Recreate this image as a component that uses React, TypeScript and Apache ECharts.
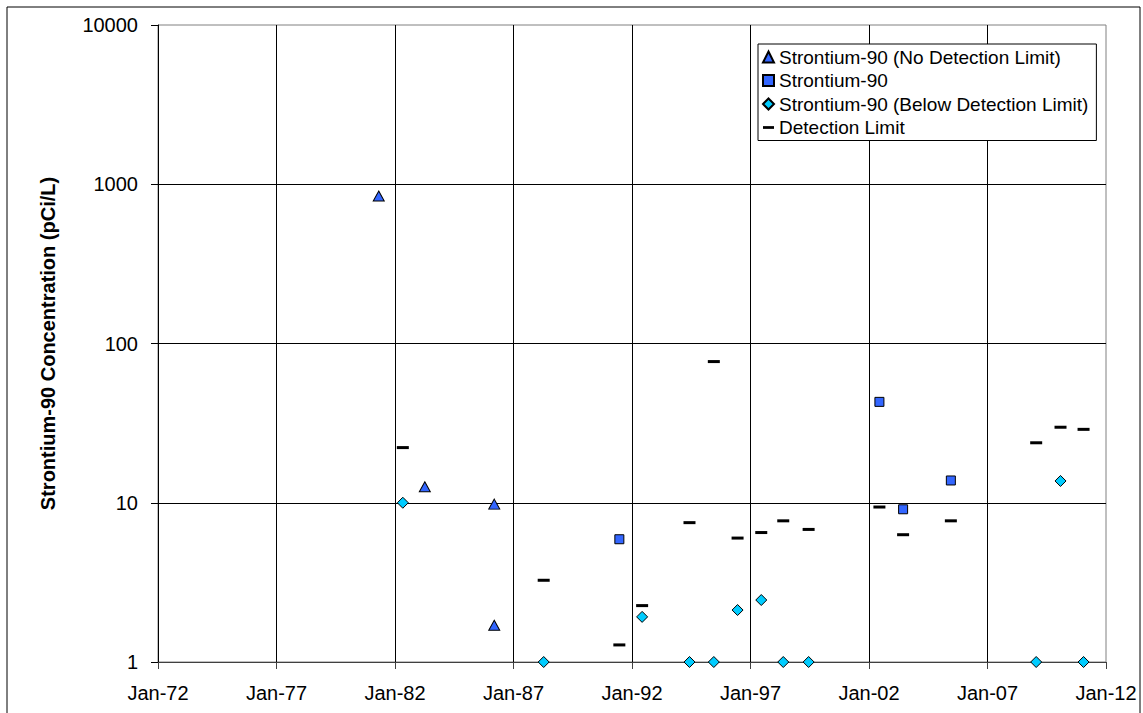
import React, { useEffect, useRef } from 'react';
import * as echarts from 'echarts';

// Strontium-90 (No Detection Limit)
const noDlDates = ['1981-04-25', '1983-04-05', '1986-03-10', '1986-03-10'];
const noDlValues = [844, 12.6, 9.8, 1.7];

// Strontium-90 (detected)
const detectDates = ['1991-06-20', '2002-06-10', '2003-06-10', '2005-06-15'];
const detectValues = [5.9, 43, 9.1, 13.8];

// Strontium-90 (Below Detection Limit)
const belowDates = [
  '1982-05-01', '1988-04-10', '1992-06-05', '1994-06-05', '1995-06-15', '1996-06-15',
  '1997-06-15', '1998-05-20', '1999-06-15', '2009-01-20', '2010-01-30', '2011-01-20',
];
const belowValues = [10, 1, 1.92, 1, 1, 2.12, 2.45, 1, 1, 1, 13.7, 1];

// Detection Limit
const limitDates = [
  '1982-05-01', '1988-04-10', '1991-06-20', '1992-06-05', '1994-06-05', '1995-06-15',
  '1996-06-15', '1997-06-15', '1998-05-20', '1999-06-15', '2002-06-10', '2003-06-10',
  '2005-06-15', '2009-01-20', '2010-01-30', '2011-01-20',
];
const limitValues = [22.2, 3.26, 1.28, 2.26, 7.5, 77, 6.0, 6.5, 7.7, 6.8, 9.4, 6.3, 7.7, 23.8, 29.8, 28.9];

const seriesNames = [
  'Strontium-90 (No Detection Limit)',
  'Strontium-90',
  'Strontium-90 (Below Detection Limit)',
  'Detection Limit',
];

const xStartYear = 1972;
const xEndYear = 2012;
const xStepYears = 5;
const yMin = 1;
const yMax = 10000;

const YEAR_MS = 365.25 * 86400000;
const origin = Date.UTC(xStartYear, 0, 1);
const toYears = (d: string) => (Date.parse(d + 'T00:00:00Z') - origin) / YEAR_MS;
const pairs = (dates: string[], vals: number[]) => dates.map((d, i) => [toYears(d), vals[i]]);

const FONT = '"Liberation Sans", Arial, sans-serif';

export default function App() {
  const ref = useRef<HTMLDivElement>(null);
  useEffect(() => {
    if (!ref.current) return;
    const chart = echarts.init(ref.current, undefined, { renderer: 'svg' });
    const dashIcon = 'path://M0 0h0M0 4.5h12v3H0zM12 12h0';
    chart.setOption({
      animation: false,
      backgroundColor: '#fff',
      textStyle: { fontFamily: FONT, color: '#000' },
      graphic: [
        {
          type: 'rect',
          silent: true,
          z: -1,
          shape: { x: 7, y: 7, width: 1133, height: 730 },
          style: { fill: 'none', stroke: '#000', lineWidth: 1 },
        },
      ],
      grid: {
        left: 158,
        top: 25,
        right: 37,
        bottom: 51,
        show: true,
        borderColor: '#808080',
        borderWidth: 1,
        backgroundColor: 'transparent',
      },
      legend: {
        orient: 'vertical',
        left: 758,
        top: 44,
        padding: [3, 8, 3, 4],
        itemWidth: 11,
        itemHeight: 11,
        itemGap: 3.5,
        borderColor: '#000',
        borderWidth: 1,
        backgroundColor: '#fff',
        textStyle: { fontFamily: FONT, fontSize: 19, color: '#000', lineHeight: 20 },
        data: [
          { name: seriesNames[0], icon: 'triangle' },
          { name: seriesNames[1], icon: 'rect' },
          { name: seriesNames[2], icon: 'diamond' },
          { name: seriesNames[3], icon: dashIcon },
        ],
      },
      xAxis: {
        type: 'value',
        min: 0,
        max: xEndYear - xStartYear,
        interval: xStepYears,
        axisLine: { show: true, lineStyle: { color: '#404040', width: 1 } },
        axisTick: { show: true, inside: false, length: 7, lineStyle: { color: '#404040' } },
        axisLabel: {
          fontFamily: FONT,
          fontSize: 20,
          color: '#000',
          margin: 21,
          formatter: (v: number) => 'Jan-' + String((xStartYear + Math.round(v)) % 100).padStart(2, '0'),
        },
        splitLine: {
          show: true,
          showMinLine: false,
          showMaxLine: false,
          lineStyle: { color: '#000', width: 1 },
        },
      },
      yAxis: {
        type: 'log',
        logBase: 10,
        min: yMin,
        max: yMax,
        name: 'Strontium-90 Concentration (pCi/L)',
        nameLocation: 'middle',
        nameGap: 100,
        nameTextStyle: { fontFamily: FONT, fontSize: 20, fontWeight: 'bold', color: '#000' },
        axisLine: { show: true, lineStyle: { color: '#000', width: 1 } },
        axisTick: { show: true, inside: false, length: 7, lineStyle: { color: '#000' } },
        minorTick: { show: false },
        axisLabel: {
          fontFamily: FONT,
          fontSize: 20,
          color: '#000',
          margin: 20,
          formatter: (v: number) => String(Math.round(v)),
        },
        splitLine: {
          show: true,
          showMinLine: false,
          showMaxLine: false,
          lineStyle: { color: '#000', width: 1 },
        },
      },
      series: [
        {
          name: seriesNames[0],
          type: 'scatter',
          clip: false,
          symbol: 'triangle',
          symbolSize: [11, 10],
          itemStyle: { color: '#3366FF', borderColor: '#000', borderWidth: 1, opacity: 1 },
          data: pairs(noDlDates, noDlValues),
        },
        {
          name: seriesNames[1],
          type: 'scatter',
          clip: false,
          symbol: 'rect',
          symbolSize: 9,
          itemStyle: { color: '#3366FF', borderColor: '#000', borderWidth: 1, opacity: 1 },
          data: pairs(detectDates, detectValues),
        },
        {
          name: seriesNames[2],
          type: 'scatter',
          clip: false,
          symbol: 'diamond',
          symbolSize: 11,
          itemStyle: { color: '#00CCFF', borderColor: '#000', borderWidth: 1, opacity: 1 },
          data: pairs(belowDates, belowValues),
        },
        {
          name: seriesNames[3],
          type: 'scatter',
          clip: false,
          symbol: 'rect',
          symbolSize: [12, 3],
          itemStyle: { color: '#000', opacity: 1 },
          data: pairs(limitDates, limitValues),
        },
      ],
    });
    return () => chart.dispose();
  }, []);
  return (
    <div
      ref={ref}
      style={{ position: 'absolute', left: 0, top: 0, width: 1143, height: 713 }}
    />
  );
}
